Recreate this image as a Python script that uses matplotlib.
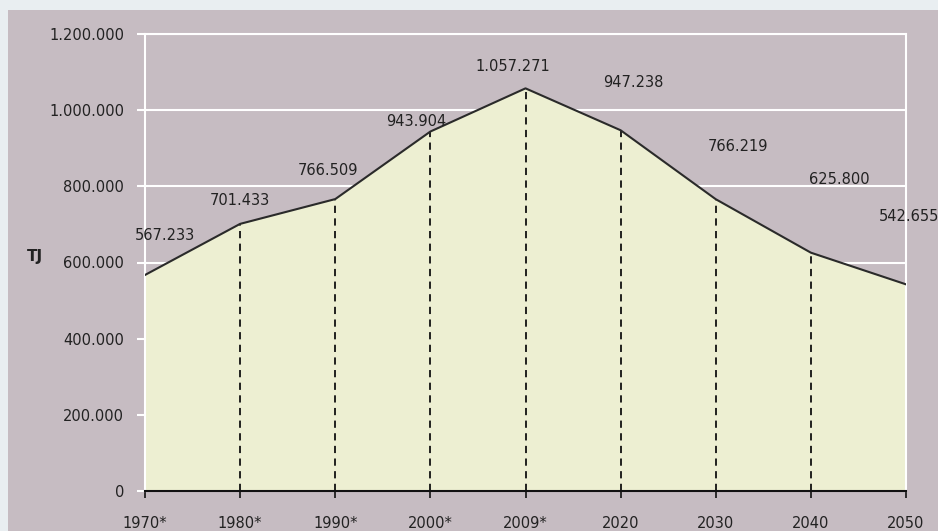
import matplotlib.pyplot as plt
from matplotlib.patches import Rectangle

# data
years = ["1970*", "1980*", "1990*", "2000*", "2009*", "2020", "2030", "2040", "2050"]
values = [567233, 701433, 766509, 943904, 1057271, 947238, 766219, 625800, 542655]
value_labels = ["567.233", "701.433", "766.509", "943.904", "1.057.271",
                "947.238", "766.219", "625.800", "542.655"]
yticks = [0, 200000, 400000, 600000, 800000, 1000000, 1200000]
ytick_labels = ["0", "200.000", "400.000", "600.000", "800.000", "1.000.000", "1.200.000"]

# label offsets in pixels (layout only)
label_offsets = [(20, 39), (0, 23), (-7, 29), (-14, 10), (-13, 22),
                 (13, 48), (22, 53), (28, 73), (3, 68)]

bg = "#c6bcc2"
fill = "#edefd2"

plt.rcParams["font.family"] = "DejaVu Sans"

fig = plt.figure(figsize=(9.38, 5.31), dpi=100)
fig.patch.set_facecolor("#e9eef1")
fig.patches.append(Rectangle((8 / 938, 0), 1, 1 - 10 / 531, transform=fig.transFigure,
                             facecolor=bg, edgecolor="none", zorder=-10))

ax = fig.add_axes([145 / 938, 1 - 491 / 531, (906 - 145) / 938, (491 - 34) / 531])
ax.set_facecolor(bg)

x = list(range(len(years)))
ax.fill_between(x, values, 0, color=fill, zorder=1)
ax.plot(x, values, color="#2a2a2a", lw=1.5, zorder=3)
for i in x[1:]:
    ax.plot([i, i], [0, values[i]], color="#111111", lw=1.3,
            ls=(0, (4, 3)), zorder=2)

for i, (lab, off) in enumerate(zip(value_labels, label_offsets)):
    ax.annotate(lab, (i, values[i]), xytext=off, textcoords="offset pixels",
                ha="center", va="center", fontsize=10.5, color="#222222",
                annotation_clip=False, zorder=5)

ax.set_xlim(0, len(years) - 1)
ax.set_ylim(0, 1200000)
ax.set_yticks(yticks)
ax.set_yticklabels(ytick_labels)
ax.set_xticks(x)
ax.set_xticklabels(years)

ax.grid(axis="y", color="white", lw=1.5, zorder=0)
ax.set_axisbelow(True)
ax.tick_params(axis="y", color="white", length=6, width=1.5, pad=9,
               labelsize=10.5, labelcolor="#222222")
ax.tick_params(axis="x", color="#111111", length=5, width=1.2, pad=13,
               labelsize=10.5, labelcolor="#222222")

for s in ["left", "right", "top"]:
    ax.spines[s].set_color("white")
    ax.spines[s].set_linewidth(1.5)
ax.spines["bottom"].set_color("#111111")
ax.spines["bottom"].set_linewidth(1.5)
ax.spines["bottom"].set_zorder(4)

fig.text(27 / 938, 1 - 257 / 531, "TJ", fontsize=11, fontweight="bold",
         color="#222222", va="center", ha="left")

fig.savefig("out.png", dpi=100, facecolor=fig.get_facecolor())
